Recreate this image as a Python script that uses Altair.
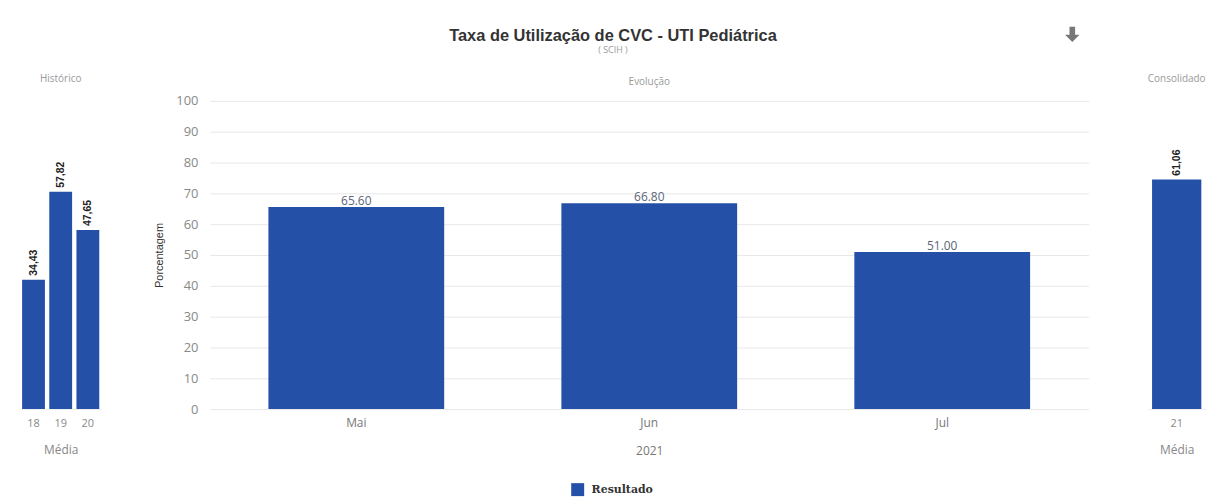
import altair as alt
import pandas as pd

# ---- data ----
hist_years = ["18", "19", "20"]
hist_values = [34.43, 57.82, 47.65]
months = ["Mai", "Jun", "Jul"]
month_values = [65.60, 66.80, 51.00]
cons_years = ["21"]
cons_values = [61.06]
series_name = "Resultado"

BAR = "#2450a8"
SANS = "Open Sans"
GRAY = "#888888"

df_h = pd.DataFrame({"cat": hist_years, "valor": hist_values, "serie": series_name})
df_m = pd.DataFrame({"cat": months, "valor": month_values, "serie": series_name})
df_c = pd.DataFrame({"cat": cons_years, "valor": cons_values, "serie": series_name})

color = alt.Color(
    "serie:N",
    scale=alt.Scale(domain=[series_name], range=[BAR]),
    legend=alt.Legend(
        title=None, orient="none", legendX=554, legendY=384,
        symbolType="square", symbolSize=170, symbolStrokeWidth=0,
        labelFont="DejaVu Serif", labelFontWeight="bold", labelFontSize=11,
        labelColor="#333333", labelOffset=7,
    ),
)


def side_panel(df, title, width, pad_inner, pad_outer):
    base = alt.Chart(df).transform_calculate(
        lbl="replace(format(datum.valor, '.2f'), '.', ',')"
    )
    x = alt.X(
        "cat:N", sort=None, title="Média",
        scale=alt.Scale(paddingInner=pad_inner, paddingOuter=pad_outer),
        axis=alt.Axis(labelAngle=0, ticks=False, domain=True, domainColor="#eeeeee",
                      labelFont=SANS, labelFontSize=11, labelColor=GRAY, labelPadding=9,
                      titleFont=SANS, titleFontSize=12, titleFontWeight="normal",
                      titleColor=GRAY, titlePadding=16),
    )
    y = alt.Y("valor:Q", scale=alt.Scale(domain=[0, 82]), axis=None)
    bars = base.mark_bar(color=BAR).encode(x=x, y=y, color=color)
    labels = base.mark_text(
        angle=270, align="left", baseline="middle", dx=4,
        font="Liberation Sans", fontWeight="bold", fontSize=10.5, color="#222222",
    ).encode(x=x, y=y, text="lbl:N")
    return (bars + labels).properties(
        width=width, height=310,
        title=alt.TitleParams(title, font=SANS, fontSize=10, fontWeight="normal",
                              color="#999999", offset=17),
    )


left = side_panel(df_h, "Histórico", 82, 0.16, 0.08)
right = side_panel(df_c, "Consolidado", 59, 0.16, 0.08)

mbase = alt.Chart(df_m).transform_calculate(icone="'download'")
mx = alt.X(
    "cat:N", sort=None, title="2021",
    scale=alt.Scale(paddingInner=0.4, paddingOuter=0.2),
    axis=alt.Axis(labelAngle=0, ticks=False, domain=False,
                  labelFont=SANS, labelFontSize=12, labelColor="#777777", labelPadding=9,
                  titleFont=SANS, titleFontSize=12, titleFontWeight="normal",
                  titleColor="#777777", titlePadding=17),
)
my = alt.Y(
    "valor:Q", title="Porcentagem",
    scale=alt.Scale(domain=[0, 100]),
    axis=alt.Axis(values=[0, 10, 20, 30, 40, 50, 60, 70, 80, 90, 100], ticks=False,
                  domain=False, grid=True, gridColor="#e8e8e8",
                  labelFont=SANS, labelFontSize=13, labelColor=GRAY, labelPadding=12,
                  titleFont="Liberation Sans", titleFontSize=11, titleFontWeight="normal",
                  titleColor="#333333", titlePadding=11),
)
mbars = mbase.mark_bar(color=BAR).encode(x=mx, y=my, color=color)
mlabels = mbase.mark_text(
    baseline="bottom", dy=1, font=SANS, fontSize=12, color="#5a6478",
).encode(x=mx, y=my, text=alt.Text("valor:Q", format=".2f"))

arrow_path = "M-0.35,-1 L0.35,-1 L0.35,0 L0.9,0 L0,0.9 L-0.9,0 L-0.35,0 Z"
icon = mbase.mark_point(filled=True, color="#777777", opacity=0).encode(
    x=mx, y=my,
    shape=alt.Shape(
        "icone:N",
        scale=alt.Scale(range=[arrow_path]),
        legend=alt.Legend(
            title=None, orient="none", legendX=1050, legendY=-75,
            symbolSize=260, symbolFillColor="#777777", symbolStrokeWidth=0,
            symbolOpacity=1, labelExpr="''", labelFontSize=1, labelOffset=0,
        ),
    ),
)

middle = (mbars + mlabels + icon).properties(
    width=884, height=310,
    title=alt.TitleParams("Evolução", font=SANS, fontSize=10, fontWeight="normal",
                          color="#999999", offset=8),
)

chart = alt.hconcat(
    alt.hconcat(left, middle, spacing=52),
    right,
    spacing=59,
).properties(
    title=alt.TitleParams(
        "Taxa de Utilização de CVC - UTI Pediátrica",
        subtitle="( SCIH )",
        font="Liberation Sans", fontSize=16.5, fontWeight="bold", color="#333333",
        subtitleFont=SANS, subtitleFontSize=9, subtitleColor="#999999",
        subtitlePadding=2, anchor="middle", offset=-29,
    ),
    padding={"left": 12, "top": 17, "right": 4, "bottom": 4},
).configure_view(stroke=None)

chart.save("out.html", embed_options={"renderer": "svg", "actions": False})
